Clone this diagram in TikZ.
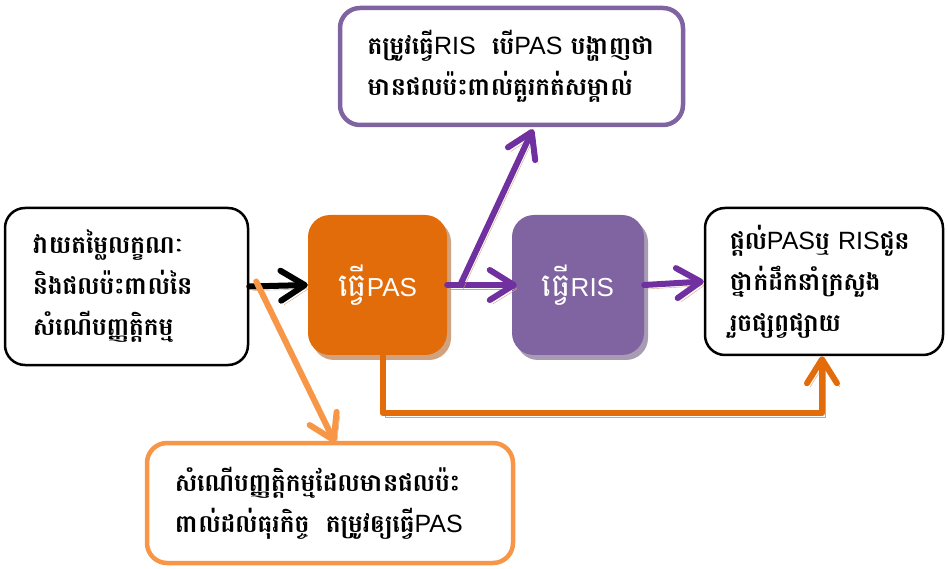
\documentclass[tikz,border=0pt]{standalone}
\usepackage{fontspec}
\setmainfont[Script=Khmer,Scale=1.24]{Battambang}
\newfontfamily\khbold[Script=Khmer,Scale=1.24]{Battambang Bold}
\newfontfamily\latinfont{Liberation Sans}
\usepackage{tikz}
\usetikzlibrary{arrows.meta,positioning,shadows}
\definecolor{Ink}{HTML}{000000}
\definecolor{PasOrange}{HTML}{E36C0A}
\definecolor{RisPurple}{HTML}{8064A2}
\definecolor{LinkPurple}{HTML}{7030A0}
\definecolor{SoftOrange}{HTML}{F79646}
\definecolor{ShadowTan}{HTML}{CFA380}
\definecolor{RisShadow}{HTML}{A89CB4}
\newcommand{\boxfont}{\fontsize{20}{41}\selectfont\khbold}
\newcommand{\stepfont}{\fontsize{26}{32}\selectfont}
\newcommand{\lat}[2][25]{{\latinfont\fontsize{#1}{41}\selectfont #2}}

\begin{document}
\begin{tikzpicture}[x=1pt,y=-1pt,
    textbox/.style={draw=#1, fill=white, rounded corners=20pt, align=left,
      inner sep=0pt, font=\boxfont},
    stepbox/.style={fill=#1, rounded corners=22pt, text=white, font=\stepfont,
      inner sep=0pt},
    barb/.style={-{Straight Barb[length=24pt,width=30pt,line cap=round,line join=round]}},
    link/.style={draw=#1, line width=6pt, line cap=round, line join=round, barb,
      preaction={draw=ShadowTan, barb, transform canvas={shift={(3,4)}}}}]
  \useasboundingbox (0,0) rectangle (948,569);

  % boxes
  \node[textbox=Ink, line width=2.5pt, minimum width=243pt, minimum height=157pt,
    text width=187pt] (assess) at (126.5,286.5)
    {វាយតម្លៃលក្ខណៈ\\និងផលប៉ះពាល់នៃ\\សំណើបញ្ញត្តិកម្ម};
  \node[stepbox=PasOrange, minimum width=139pt, minimum height=140pt,
    general shadow={shadow xshift=4pt, shadow yshift=-5pt, fill=ShadowTan}]
    (pas) at (377.5,285) {ធ្វើ\lat[26]{PAS}};
  \node[stepbox=RisPurple, minimum width=132pt, minimum height=140pt,
    general shadow={shadow xshift=4pt, shadow yshift=-5pt, fill=RisShadow}]
    (ris) at (578,285) {ធ្វើ\lat[26]{RIS}};
  \node[textbox=Ink, line width=2.5pt, minimum width=238pt, minimum height=147pt,
    text width=188pt] (report) at (824,281.5)
    {ផ្ដល់\lat{PAS}ឬ \lat{RIS}ជូន\\ថ្នាក់ដឹកនាំក្រសួង\\រួចផ្សព្វផ្សាយ};
  \node[textbox=RisPurple, line width=4.5pt, minimum width=343pt, minimum height=117pt,
    text width=288pt] (needris) at (511.5,66.5)
    {តម្រូវធ្វើ\lat{RIS}\ \ បើ\lat{PAS} បង្ហាញថា\\មានផលប៉ះពាល់គួរកត់សម្គាល់};
  \node[textbox=SoftOrange, line width=4.5pt, minimum width=366pt, minimum height=120pt,
    text width=310pt] (needpas) at (330,503)
    {សំណើបញ្ញត្តិកម្មដែលមានផលប៉ះ\\ពាល់ដល់ធុរកិច្ច\ \ តម្រូវឲ្យធ្វើ\lat{PAS}};

  % connectors
  \coordinate (fork) at ([xshift=13pt]pas.east);
  \coordinate (tap) at ([xshift=7pt,yshift=5pt]assess.east);
  \draw[link=Ink] (assess.east) -- (pas.west);
  \draw[link=LinkPurple] (pas.east) -- ([xshift=5pt]ris.west);
  \draw[link=LinkPurple] (fork) -- ([xshift=21.5pt,yshift=-2pt]needris.south);
  \draw[link=LinkPurple] (ris.east) -- (report.west);
  \draw[link=SoftOrange] (tap) -- ([xshift=5pt,yshift=-2pt]needpas.north);
  \draw[link=PasOrange] ([xshift=5pt]pas.south) -- ++(0,58)
    -| ([xshift=-2pt]report.south);
\end{tikzpicture}
\end{document}
